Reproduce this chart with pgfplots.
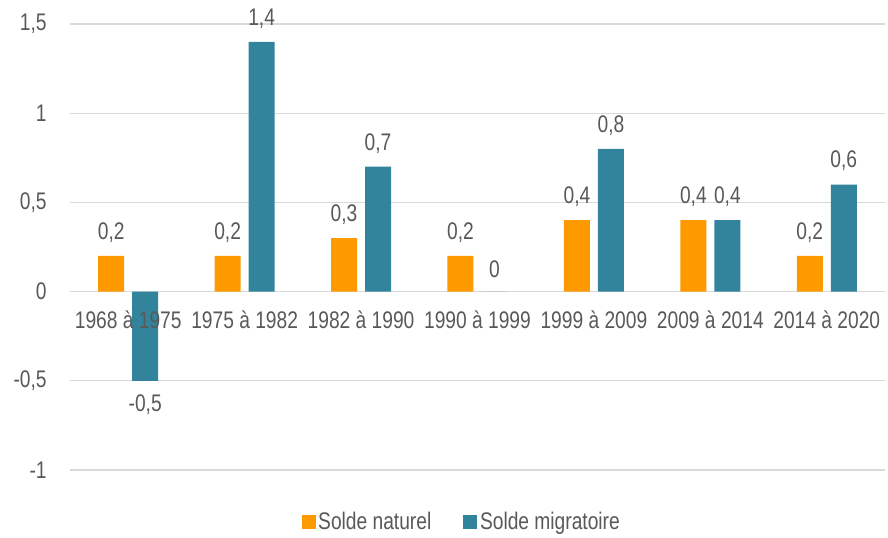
\documentclass[border=0pt]{standalone}
\usepackage{pgfplots}
\pgfplotsset{compat=1.18}
\usepackage{fontspec}
\setmainfont{Liberation Sans}[FakeStretch=0.8]
\definecolor{orgbar}{HTML}{FF9900}
\definecolor{tealbar}{HTML}{31849B}
\definecolor{txt}{HTML}{595959}
\definecolor{gridc}{HTML}{D9D9D9}
\begin{document}
\begin{tikzpicture}
\begin{axis}[
  scale only axis, width=611.25pt, height=334.5pt,
  ybar, bar width=19.5pt,
  xmin=-0.5, xmax=6.5, ymin=-1, ymax=1.5,
  axis line style={draw=none},
  major tick length=0pt,
  ymajorgrids, grid style={gridc, line width=1pt},
  ytick={-1,-0.5,0,0.5,1,1.5},
  yticklabels={{-1},{-0,5},{0},{0,5},{1},{1,5}},
  xtick={0,...,6},
  xticklabels={},
  yticklabel style={anchor=east, xshift=-14pt},
  tick label style={font=\fontsize{18}{20}\selectfont, text=txt},
  point meta=explicit symbolic,
  visualization depends on={y \as \rawy},
  nodes near coords,
  nodes near coords style={font=\fontsize{18}{20}\selectfont, text=txt, inner ysep=10pt,
    anchor={\ifdim\rawy pt<0pt north\else south\fi}},
  legend columns=2,
  legend style={draw=none, at={(0.481,-0.1166)}, anchor=center, font=\fontsize{18}{20}\selectfont, text=txt,
    /tikz/every even column/.append style={column sep=22pt}},
  legend image code/.code={\fill[#1] (0pt,-5.25pt) rectangle (10.5pt,5.25pt);},
  after end axis/.code={\path (rel axis cs:0,0) ++(-52.5pt,-50.25pt) coordinate (bbsw); \path (bbsw) ++(666pt,402.75pt) coordinate (bbne);},
]
\addplot[fill=orgbar, draw=none, bar shift=-12.75pt] coordinates {
  (0,0.2) [0,2] (1,0.2) [0,2] (2,0.3) [0,3] (3,0.2) [0,2] (4,0.4) [0,4] (5,0.4) [0,4] (6,0.2) [0,2]};
\addplot[fill=tealbar, draw=none, bar shift=12.75pt] coordinates {
  (0,-0.5) [-0,5] (1,1.4) [1,4] (2,0.7) [0,7] (3,0) [0] (4,0.8) [0,8] (5,0.4) [0,4] (6,0.6) [0,6]};
\legend{Solde naturel, Solde migratoire}
\addplot[forget plot, draw=none, fill=none, bar shift=0pt,
  nodes near coords style={anchor=center, inner ysep=0pt, yshift=-21pt}] coordinates {
  (0,0) [1968 à 1975] (1,0) [1975 à 1982] (2,0) [1982 à 1990] (3,0) [1990 à 1999]
  (4,0) [1999 à 2009] (5,0) [2009 à 2014] (6,0) [2014 à 2020]};
\end{axis}
\pgfresetboundingbox
\useasboundingbox (bbsw) rectangle (bbne);
\end{tikzpicture}
\end{document}
